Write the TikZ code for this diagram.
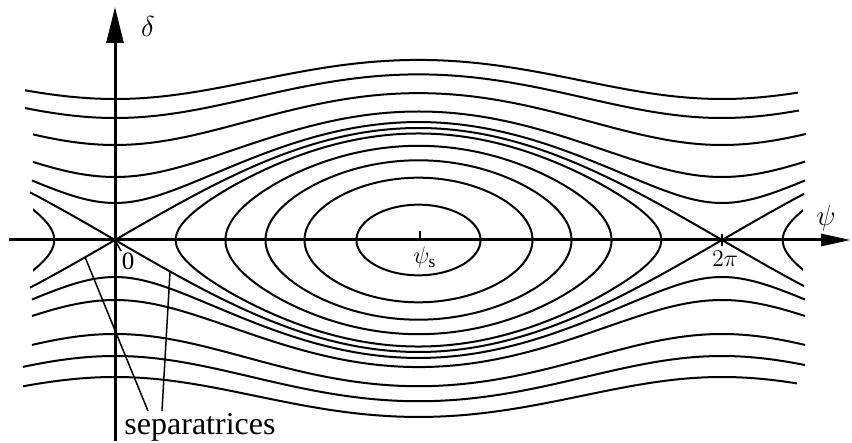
\documentclass[tikz,border=0pt]{standalone}
\usepackage{fontspec}
\setmainfont{Liberation Serif}
\usetikzlibrary{arrows.meta}
\begin{document}
\begin{tikzpicture}[x=0.5pt,y=-0.5pt,
  curve/.style={line width=1pt, smooth},
  axisline/.style={line width=1.5pt},
  thin line/.style={line width=0.75pt},
  lbl/.style={inner sep=0pt, font=\fontsize{12.5}{14}\selectfont},
  biglbl/.style={inner sep=0pt, font=\fontsize{14}{16}\selectfont}]
\useasboundingbox (0,0) rectangle (852,443);
% rotating orbits (above)
\foreach \vd/\va/\vb in {14.1/25/798, 12.2/25/799, 9.5/33/806, 6.3/33/805, 3.7/32/805}{
  \draw[curve] plot[domain=\va:\vb, samples=120] (\x, {240-10*sqrt(\vd*\vd+62.72*(1-cos((\x-115)*0.59308)))});
}
% rotating orbits (below)
\foreach \vd/\va/\vb in {13.7/23/797, 11.6/23/805, 9.4/32/805, 6.0/32/805, 3.7/32/805}{
  \draw[curve] plot[domain=\va:\vb, samples=120] (\x, {240+10*sqrt(\vd*\vd+62.72*(1-cos((\x-115)*0.59308)))});
}
% trapped orbits around psi_s
\foreach \vk in {0.3155,0.5564,0.7117,0.8411,0.9511}{
  \draw[curve] plot[domain=0:360, samples=160] ({418.5+3.3722*asin(\vk*sin(\x))}, {240-112*\vk*cos(\x)});
}
% neighbouring buckets
\begin{scope}
  \clip (33,0) rectangle (803,443);
  \draw[curve] plot[domain=0:360, samples=160] ({-188.5+3.3722*asin(0.9511*sin(\x))}, {240-112*0.9511*cos(\x)});
  \draw[curve] plot[domain=0:360, samples=160] ({1025.5+3.3722*asin(0.9511*sin(\x))}, {240-112*0.9511*cos(\x)});
\end{scope}
% separatrices
\draw[curve] plot[domain=30:804, samples=160] (\x, {240-112*sin((\x-115)*0.29654)});
\draw[curve] plot[domain=30:804, samples=160] (\x, {240+112*sin((\x-115)*0.29654)});
% axes
\coordinate (yb) at (115,441);
\coordinate (yt) at (115,7);
\coordinate (xl) at (9,240);
\coordinate (xr) at (851,240);
\draw[axisline, -{Triangle[length=18pt,width=8.5pt]}] (yb) -- (yt);
\draw[axisline, -{Triangle[length=15pt,width=6pt]}] (xl) -- (xr);
% ticks
\coordinate (o) at (116,242);
\coordinate (ot) at (121,251);
\draw[thin line] (o) -- (ot);
\coordinate (st) at (420,231);
\coordinate (sb) at (420,240);
\draw[thin line] (st) -- (sb);
\coordinate (tt) at (722,234);
\coordinate (tb) at (722,246);
\draw[thin line] (tt) -- (tb);
% labels
\node[biglbl] (dl) at (148,27) {$\delta$};
\node[biglbl] (pl) at (826,218) {$\psi$};
\node[lbl] (zero) at (128,261) {0};
\node[lbl] (twopi) at (725,259) {$2\pi$};
\node[lbl] (psis) at (425,258) {$\psi_{\mathrm s}$};
\node[inner sep=0pt, anchor=base, font=\fontsize{16}{18}\selectfont] (sep) at (200,435) {separatrices};
% pointers
\coordinate (s1) at (85,257);
\coordinate (s2) at (170,272);
\coordinate (e1) at (148,411);
\coordinate (e2) at (162,411);
\draw[thin line] (s1) -- (e1);
\draw[thin line] (s2) -- (e2);
\end{tikzpicture}
\end{document}
